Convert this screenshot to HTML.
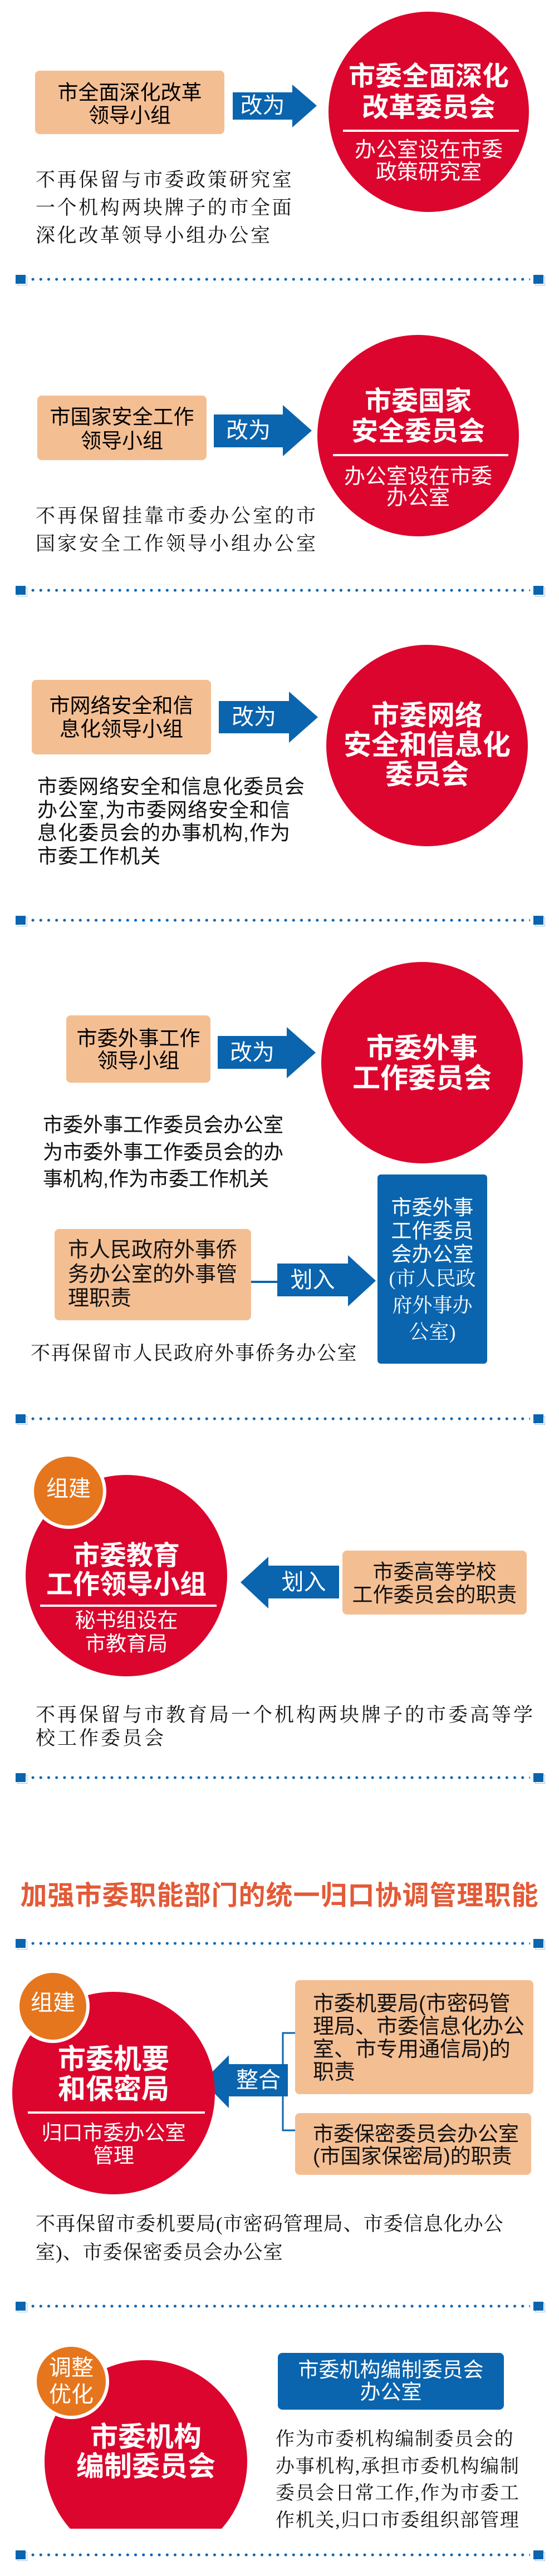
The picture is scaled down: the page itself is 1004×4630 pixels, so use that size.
<!DOCTYPE html>
<html><head><meta charset="utf-8">
<style>
*{margin:0;padding:0;box-sizing:border-box}
body{width:1004px;height:4630px;position:relative;background:#fff;overflow:hidden;font-family:"Liberation Sans","Noto Sans CJK SC",sans-serif}
.t{position:absolute;white-space:nowrap}
.c{text-align:center}
.w{color:#fff}
.b{font-weight:bold}
.sf{font-family:"Liberation Serif","Noto Serif CJK SC",serif;color:#111}
.dl{position:absolute;left:0;width:1004px;height:20px}
.dl .sq1{position:absolute;left:28px;top:2px;width:18px;height:16px;background:#0a64ae}
.dl .sq1b{position:absolute;left:31px;top:5px;width:18px;height:16px;border:1px solid #9cc3e6}
.dl .sq2{position:absolute;left:958px;top:2px;width:18px;height:16px;background:#0a64ae}
.dl .sq2b{position:absolute;left:961px;top:5px;width:18px;height:16px;border:1px solid #9cc3e6}
.dl .dots{position:absolute;left:52px;top:7px;width:900px;height:6px;background:radial-gradient(circle,#0a64ae 2.2px,transparent 2.8px) 0 0/14.2px 6px repeat-x}
</style></head><body>
<svg width="1004" height="4630" style="position:absolute;left:0;top:0">
<g fill="#f4be93">
<rect x="63" y="127" width="340" height="114" rx="8"/>
<rect x="67" y="711" width="304" height="116" rx="8"/>
<rect x="57" y="1222" width="322" height="134" rx="8"/>
<rect x="119" y="1825" width="259" height="121" rx="8"/>
<rect x="98" y="2209" width="353" height="164" rx="8"/>
<rect x="615" y="2787" width="331" height="115" rx="8"/>
<rect x="530" y="3559" width="428" height="205" rx="8"/>
<rect x="530" y="3798" width="424" height="111" rx="8"/>
</g>
<g fill="#0a64ae">
<polygon points="418,166 525,166 525,152 569,190 525,229 525,215 418,215"/>
<polygon points="384,745 508,745 508,728 560,774 508,820 508,804 384,804"/>
<polygon points="393,1260 519,1260 519,1243 571,1289 519,1335 519,1318 393,1318"/>
<polygon points="391,1862 515,1862 515,1846 567,1892 515,1938 515,1921 391,1921"/>
<polygon points="498,2271 625,2271 625,2256 675,2302 625,2348 625,2330 498,2330"/>
<rect x="451" y="2302" width="47" height="4"/>
<rect x="678" y="2111" width="197" height="340" rx="6"/>
<polygon points="609,2814 482,2814 482,2798 432,2844 482,2891 482,2873 609,2873"/>
<polygon points="517,3710 411,3710 411,3694 364,3741 411,3789 411,3768 517,3768"/>
<rect x="499" y="4229" width="406" height="102" rx="8"/>
</g>
<path d="M530 3654 H508 V3829 H530" fill="none" stroke="#0a64ae" stroke-width="3"/>
<g fill="#dc052d">
<circle cx="770" cy="201" r="180"/>
<circle cx="751" cy="783" r="181"/>
<circle cx="767" cy="1340" r="181"/>
<circle cx="758" cy="1910" r="181"/>
<circle cx="227" cy="2832" r="181"/>
<circle cx="204" cy="3762" r="182"/>
<circle cx="262" cy="4424" r="182"/>
</g>
<rect x="60" y="4545" width="420" height="80" fill="#fff"/>
<g stroke="#fff" stroke-width="4">
<line x1="616" y1="235" x2="932" y2="235"/>
<line x1="598" y1="818" x2="913" y2="818"/>
<line x1="72" y1="2886" x2="389" y2="2886"/>
<line x1="50" y1="3797" x2="368" y2="3797"/>
</g>
<g fill="#e5761e" stroke="#fff" stroke-width="6">
<circle cx="123" cy="2680" r="65"/>
<circle cx="95" cy="3606" r="63"/>
<circle cx="128" cy="4280" r="65"/>
</g>
</svg>

<!-- section 1 -->
<div class="t c" style="left:63px;width:340px;top:146px;font-size:37px;line-height:41px">市全面深化改革<br>领导小组</div>
<div class="t c w" style="left:418px;width:107px;top:168px;font-size:40px;line-height:44px">改为</div>
<div class="t c w b" style="left:590px;width:360px;top:110px;font-size:48px;line-height:56px">市委全面深化<br>改革委员会</div>
<div class="t c w" style="left:590px;width:360px;top:250px;font-size:38px;line-height:40px">办公室设在市委<br>政策研究室</div>
<div class="t sf" style="left:64px;top:299px;font-size:35px;line-height:50px;letter-spacing:3.6px">不再保留与市委政策研究室<br>一个机构两块牌子的市全面<br>深化改革领导小组办公室</div>
<div class="dl" style="top:492px"><div class="sq1b"></div><div class="sq1"></div><div class="dots"></div><div class="sq2b"></div><div class="sq2"></div></div>

<!-- section 2 -->
<div class="t c" style="left:67px;width:304px;top:728px;font-size:37px;line-height:43px">市国家安全工作<br>领导小组</div>
<div class="t c w" style="left:384px;width:124px;top:752px;font-size:40px;line-height:44px">改为</div>
<div class="t c w b" style="left:570px;width:362px;top:695px;font-size:48px;line-height:54px">市委国家<br>安全委员会</div>
<div class="t c w" style="left:570px;width:362px;top:838px;font-size:38px;line-height:38px">办公室设在市委<br>办公室</div>
<div class="t sf" style="left:64px;top:903px;font-size:35px;line-height:50px;letter-spacing:4px">不再保留挂靠市委办公室的市<br>国家安全工作领导小组办公室</div>
<div class="dl" style="top:1051px"><div class="sq1b"></div><div class="sq1"></div><div class="dots"></div><div class="sq2b"></div><div class="sq2"></div></div>

<!-- section 3 -->
<div class="t c" style="left:57px;width:322px;top:1248px;font-size:37px;line-height:42px">市网络安全和信<br>息化领导小组</div>
<div class="t c w" style="left:393px;width:126px;top:1267px;font-size:40px;line-height:44px">改为</div>
<div class="t c w b" style="left:586px;width:362px;top:1260px;font-size:50px;line-height:53px">市委网络<br>安全和信息化<br>委员会</div>
<div class="t" style="left:67px;top:1393px;font-size:36px;line-height:41.7px;color:#111;letter-spacing:1px">市委网络安全和信息化委员会<br>办公室,为市委网络安全和信<br>息化委员会的办事机构,作为<br>市委工作机关</div>
<div class="dl" style="top:1644px"><div class="sq1b"></div><div class="sq1"></div><div class="dots"></div><div class="sq2b"></div><div class="sq2"></div></div>

<!-- section 4 -->
<div class="t c" style="left:119px;width:259px;top:1847px;font-size:37px;line-height:40px">市委外事工作<br>领导小组</div>
<div class="t c w" style="left:391px;width:124px;top:1870px;font-size:40px;line-height:44px">改为</div>
<div class="t c w b" style="left:577px;width:362px;top:1857px;font-size:50px;line-height:54px">市委外事<br>工作委员会</div>
<div class="t" style="left:77px;top:1998px;font-size:36px;line-height:48.5px;color:#111">市委外事工作委员会办公室<br>为市委外事工作委员会的办<br>事机构,作为市委工作机关</div>
<div class="t" style="left:122px;top:2226px;font-size:38px;line-height:43.5px;color:#111">市人民政府外事侨<br>务办公室的外事管<br>理职责</div>
<div class="t c w" style="left:498px;width:127px;top:2279px;font-size:40px;line-height:44px">划入</div>
<div class="t c w" style="left:678px;width:197px;top:2150px;font-size:37px;line-height:42px">市委外事<br>工作委员<br>会办公室</div>
<div class="t c w" style="left:678px;width:197px;top:2274px;font-size:36px;line-height:48px;font-family:'Liberation Serif','Noto Serif CJK SC',serif">(市人民政<br>府外事办<br>公室)</div>
<div class="t sf" style="left:55px;top:2413px;font-size:35px;line-height:40px;letter-spacing:1.7px">不再保留市人民政府外事侨务办公室</div>
<div class="dl" style="top:2540px"><div class="sq1b"></div><div class="sq1"></div><div class="dots"></div><div class="sq2b"></div><div class="sq2"></div></div>

<!-- section 5 -->
<div class="t c w" style="left:58px;width:130px;top:2654px;font-size:40px;line-height:44px">组建</div>
<div class="t c w b" style="left:46px;width:362px;top:2771px;font-size:48px;line-height:52px">市委教育<br>工作领导小组</div>
<div class="t c w" style="left:46px;width:362px;top:2892px;font-size:37px;line-height:42px">秘书组设在<br>市教育局</div>
<div class="t c w" style="left:482px;width:127px;top:2822px;font-size:40px;line-height:44px">划入</div>
<div class="t c" style="left:615px;width:331px;top:2805px;font-size:37px;line-height:41px;color:#111">市委高等学校<br>工作委员会的职责</div>
<div class="t sf" style="left:64px;top:3062px;font-size:35px;line-height:42px;letter-spacing:4px">不再保留与市教育局一个机构两块牌子的市委高等学<br>校工作委员会</div>
<div class="dl" style="top:3185px"><div class="sq1b"></div><div class="sq1"></div><div class="dots"></div><div class="sq2b"></div><div class="sq2"></div></div>

<!-- heading -->
<div class="t c b" style="left:0;width:1004px;top:3378px;font-size:48px;line-height:60px;color:#e35a36;letter-spacing:1px">加强市委职能部门的统一归口协调管理职能</div>
<div class="dl" style="top:3483px"><div class="sq1b"></div><div class="sq1"></div><div class="dots"></div><div class="sq2b"></div><div class="sq2"></div></div>

<!-- section 6 -->
<div class="t c w" style="left:30px;width:130px;top:3578px;font-size:40px;line-height:44px">组建</div>
<div class="t c w b" style="left:22px;width:364px;top:3674px;font-size:50px;line-height:54px">市委机要<br>和保密局</div>
<div class="t c w" style="left:22px;width:364px;top:3813px;font-size:37px;line-height:41px">归口市委办公室<br>管理</div>
<div class="t c w" style="left:411px;width:106px;top:3717px;font-size:40px;line-height:44px">整合</div>
<div class="t" style="left:562px;top:3582px;font-size:38px;line-height:41px;color:#111">市委机要局(市密码管<br>理局、市委信息化办公<br>室、市专用通信局)的<br>职责</div>
<div class="t" style="left:562px;top:3816px;font-size:37px;line-height:40px;color:#111">市委保密委员会办公室<br>(市国家保密局)的职责</div>
<div class="t sf" style="left:64px;top:3972px;font-size:35px;line-height:51px;letter-spacing:1px">不再保留市委机要局(市密码管理局、市委信息化办公<br>室)、市委保密委员会办公室</div>
<div class="dl" style="top:4135px"><div class="sq1b"></div><div class="sq1"></div><div class="dots"></div><div class="sq2b"></div><div class="sq2"></div></div>

<!-- section 7 -->
<div class="t c w" style="left:63px;width:130px;top:4232px;font-size:40px;line-height:48px">调整<br>优化</div>
<div class="t c w b" style="left:80px;width:364px;top:4354px;font-size:50px;line-height:53px">市委机构<br>编制委员会</div>
<div class="t c w" style="left:499px;width:406px;top:4240px;font-size:37px;line-height:40px">市委机构编制委员会<br>办公室</div>
<div class="t sf" style="left:495px;top:4361px;font-size:34px;line-height:48.5px;letter-spacing:1.7px">作为市委机构编制委员会的<br>办事机构,承担市委机构编制<br>委员会日常工作,作为市委工<br>作机关,归口市委组织部管理</div>
<div class="dl" style="top:4582px"><div class="sq1b"></div><div class="sq1"></div><div class="dots"></div><div class="sq2b"></div><div class="sq2"></div></div>
</body></html>
